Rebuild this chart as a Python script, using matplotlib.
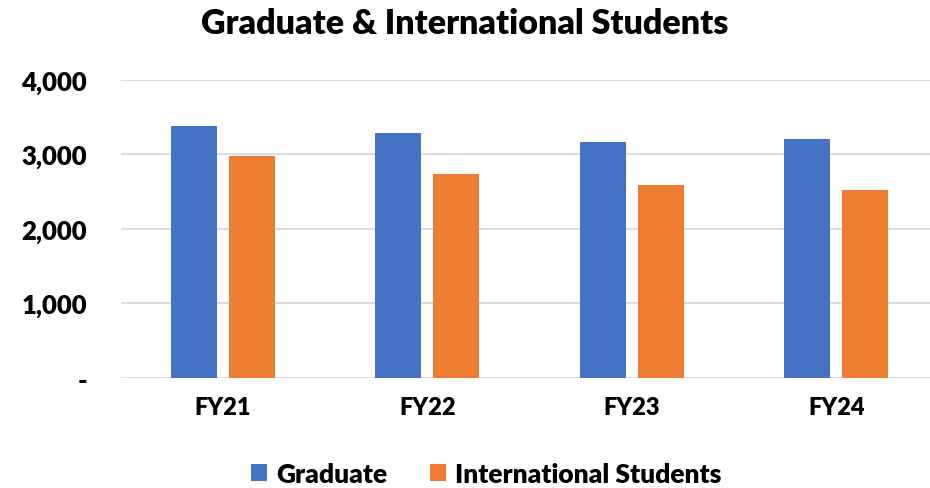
import matplotlib
matplotlib.use("Agg")
import matplotlib.pyplot as plt
import matplotlib.ticker as ticker
import numpy as np

years = ["FY21", "FY22", "FY23", "FY24"]
graduate = [3374, 3289, 3168, 3208]
international = [2976, 2740, 2582, 2515]

plt.rcParams['font.family'] = ['Lato', 'DejaVu Sans']
plt.rcParams['font.weight'] = 'heavy'

W, H = 930, 489
fig = plt.figure(figsize=(W / 100, H / 100), dpi=100)
# axes placed in pixel terms (gridlines run past the right edge, as in the reference)
ax = fig.add_axes([120.5 / W, (H - 378.7) / H, 818 / W, 298 / H])

x = np.arange(len(years))
bw = 0.225
off = 0.1419
ax.bar(x - off, graduate, width=bw, color="#4472C4", label="Graduate", zorder=3)
ax.bar(x + off, international, width=bw, color="#ED7D31", label="International Students", zorder=3)

ax.set_xlim(-0.5, 3.5)
ax.set_ylim(0, 4000)
ax.set_yticks([0, 1000, 2000, 3000, 4000])
ax.yaxis.set_major_formatter(ticker.FuncFormatter(lambda v, p: "-" if v == 0 else "{:,.0f}".format(v)))
ax.set_xticks(x)
ax.set_xticklabels(years)
ax.yaxis.grid(True, color="#D9D9D9", linewidth=1.3, zorder=0)
for s in ax.spines.values():
    s.set_visible(False)
ax.tick_params(axis="both", length=0)
ax.tick_params(axis="y", pad=24, labelsize=18.5)
ax.tick_params(axis="x", pad=13, labelsize=17)
for lbl in ax.get_xticklabels() + ax.get_yticklabels():
    lbl.set_fontweight("heavy")

fig.text(0.5, 1 - 24 / H, "Graduate & International Students", ha="center", va="center",
         fontsize=24.5, fontweight="heavy")

leg = fig.legend(loc="center", bbox_to_anchor=(0.523, 1 - 475 / H), ncol=2, frameon=False,
                 fontsize=19, handlelength=0.6, handleheight=0.6, handletextpad=0.35,
                 columnspacing=1.6)
for t in leg.get_texts():
    t.set_fontweight("heavy")

fig.savefig("out.png", dpi=100)
